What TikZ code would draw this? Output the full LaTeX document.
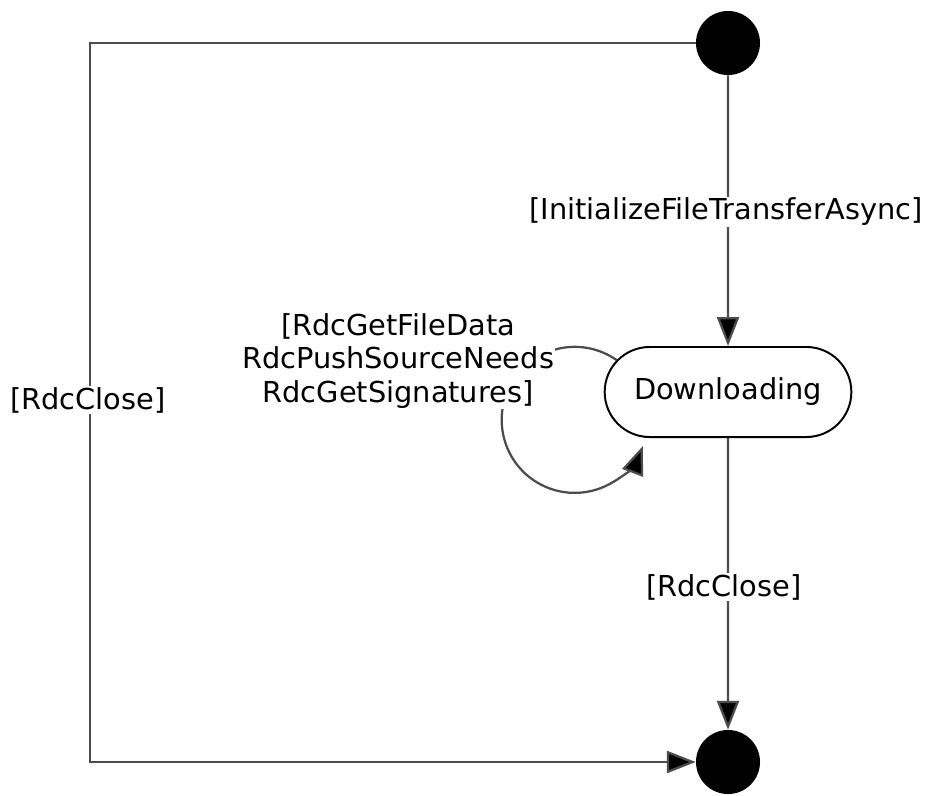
\documentclass[tikz,border=0pt]{standalone}
\usepackage{fontspec}
\setmainfont{DejaVu Sans}
\usetikzlibrary{arrows.meta, shapes.misc}

\tikzset{
  flow/.style={draw=black!70, line width=1.6pt, -{Triangle[length=0.72cm, width=0.55cm, fill=black]}},
  guard/.style={fill=white, inner sep=1pt, align=center},
  pseudo/.style={circle, fill=black, minimum size=1.6cm, inner sep=0pt},
  state/.style={draw, rounded rectangle, line width=1.4pt, minimum width=6.4cm, minimum height=2.25cm},
}

\begin{document}
\begin{tikzpicture}[x=0.025cm, y=-0.025cm, font=\fontsize{20.5}{23.5}\selectfont]
\useasboundingbox (0,0) rectangle (925,795);

% states
\node[pseudo] (start) at (728,43) {};
\node[state] (dl) at (728,392) {Downloading};
\node[pseudo] (stop) at (728,762) {};
\coordinate (corner) at (90,762);

% transitions
\draw[flow] (start) -- (dl);
\draw[flow] (dl) -- (stop);
\draw[flow] (start.west) -| (corner) -- (stop);
\draw[flow] (dl.164) arc[start angle=55, end angle=339, radius=1.825cm];

% guards
\node[guard] (init) at (726,212) {[InitializeFileTransferAsync]};
\node[guard] (close) at (724,587) {[RdcClose]};
\node[guard] (abort) at (88,400) {[RdcClose]};
\node[guard] (loop) at (398,361) {[RdcGetFileData\\RdcPushSourceNeeds\\RdcGetSignatures]};

\end{tikzpicture}
\end{document}
